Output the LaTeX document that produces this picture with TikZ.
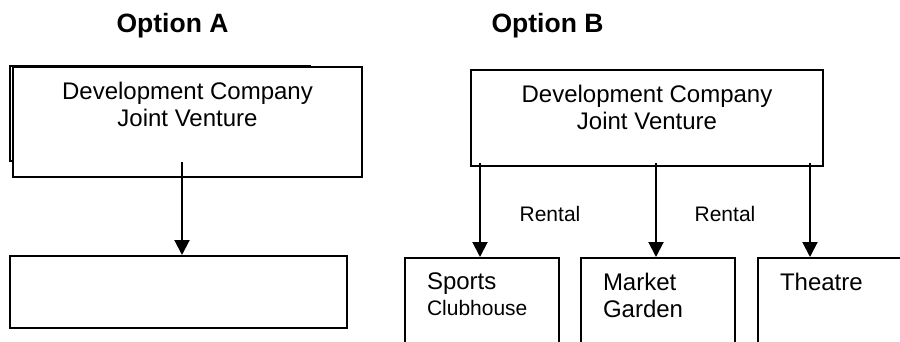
\documentclass[tikz,border=0pt]{standalone}
\usepackage{fontspec}
\setmainfont{Liberation Sans}
\usetikzlibrary{positioning,arrows.meta}

\tikzset{
  box/.style={draw, rectangle, fill=white, line width=2pt},
  big/.style={font=\fontsize{24}{27}\selectfont},
  small/.style={font=\fontsize{21}{24}\selectfont},
  head/.style={font=\bfseries\fontsize{26.5}{30}\selectfont},
}

\begin{document}
\begin{tikzpicture}[x=1pt, y=-1pt, line width=2pt, >={Triangle[length=15pt, width=15pt]}]
\useasboundingbox (0,0) rectangle (900,341);
\clip (0,0) rectangle (900,341);

% Headings
\node (ha) [head, anchor=base] at (172.5,32) {Option A};
\node (hb) [head, anchor=base] at (547.5,32) {Option B};

% Option A
\node (jas) [box, minimum width=300pt, minimum height=95pt] at (160.0,113.5) {};
\node (ja) [box, minimum width=349pt, minimum height=110pt] at (187.5,122.0) {};
\node (jat) [big, align=center, anchor=base] at (187.5,126) {Development Company\\Joint Venture};
\node (ea) [box, minimum width=337pt, minimum height=72pt] at (178.5,292.0) {};

% Option B
\node (jb) [box, minimum width=352pt, minimum height=96pt] at (647.0,118.0) {};
\node (jbt) [big, align=center, anchor=base] at (647.0,129) {Development Company\\Joint Venture};
\node (sc) [box, minimum width=154pt, minimum height=120pt, anchor=north] at (482.0,257) {};
\node (mg) [box, minimum width=154pt, minimum height=120pt, anchor=north] at (658.0,257) {};
\node (th) [box, minimum width=180pt, minimum height=120pt, anchor=north west] at (757.0,257) {};

% Labels in the lower boxes
\node (sct) [big, anchor=base west, inner sep=0pt] at (426,289) {Sports};
\node (scs) [small, anchor=base west, inner sep=0pt] at (426,315) {Clubhouse};
\node (mgt) [big, anchor=base west, inner sep=0pt, align=left] at (602,317) {Market\\Garden};
\node (tht) [big, anchor=base west, inner sep=0pt] at (779,290) {Theatre};

% Connections
\coordinate (a0) at (182,162);
\coordinate (b0) at (480,163);
\coordinate (b1) at (656,163);
\coordinate (b2) at (810,163);
\draw [->] (a0) -- (a0 |- ea.north);
\draw [->] (b0) -- (b0 |- sc.north);
\draw [->] (b1) -- (b1 |- mg.north);
\draw [->] (b2) -- (b2 |- th.north);

\node (r0) [small, anchor=base] at (550,221) {Rental};
\node (r1) [small, anchor=base] at (725,221) {Rental};

\end{tikzpicture}
\end{document}
